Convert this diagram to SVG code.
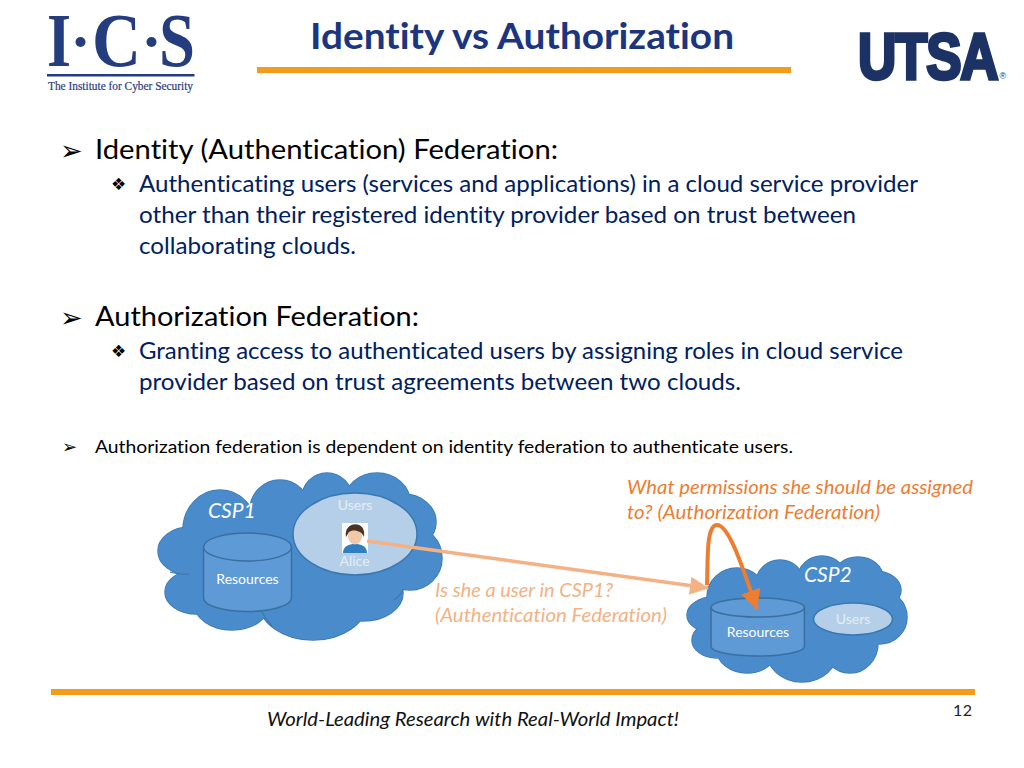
<svg xmlns="http://www.w3.org/2000/svg" width="1024" height="768" viewBox="0 0 1024 768">
<style>
text{font-family:"Lato","Noto Sans",sans-serif;font-variant-ligatures:none}
.h{font-size:27px;fill:#000}
.s{font-size:24px;fill:#002060}
.b{font-family:"DejaVu Sans",sans-serif;fill:#000}
.o{font-size:20px;font-style:italic;fill:#ed7d31}
.p{font-size:20px;font-style:italic;fill:#f4b183}
.w{font-size:14px;fill:#fff;text-anchor:middle}
.u{font-size:14px;fill:#e3edf7;text-anchor:middle}
.c{font-size:21px;font-style:italic;fill:#fff}
.edge{fill:#3a78b2;stroke:#3a78b2;stroke-width:1.5}
.fillc{fill:#4a8bcb}
.cusp{fill:none;stroke:#3a78b2;stroke-width:1.2}
.cyl{fill:#5e9ad6;stroke:#3a6f9f;stroke-width:1.5}
.ell{fill:#b6cfe9;stroke:#3a78b2;stroke-width:1.5}
.rule{fill:#f39c1c}
.logo{font-family:"Liberation Serif",serif;fill:#253c7f}
</style>
<defs>
<marker id="ah1" markerUnits="userSpaceOnUse" markerWidth="20" markerHeight="20" refX="18" refY="10" orient="auto"><path d="M0,1 L19,10 L0,19 Z" fill="#f4b183"/></marker>
<marker id="ah2" markerUnits="userSpaceOnUse" markerWidth="22" markerHeight="22" refX="19" refY="11" orient="auto"><path d="M0,1 L20,11 L0,21 Z" fill="#ed7d31"/></marker>
<g id="lobes1">
<ellipse cx="190" cy="551" rx="32" ry="24"/>
<ellipse cx="197" cy="592" rx="32" ry="22"/>
<ellipse cx="232" cy="603" rx="38" ry="27"/>
<ellipse cx="313" cy="602" rx="54" ry="38"/>
<ellipse cx="363" cy="593" rx="40" ry="28"/>
<ellipse cx="410" cy="558" rx="32" ry="32"/>
<ellipse cx="403" cy="522" rx="33" ry="28"/>
<ellipse cx="377" cy="502" rx="33" ry="29"/>
<ellipse cx="327" cy="498" rx="25" ry="25"/>
<ellipse cx="280" cy="510" rx="30" ry="30"/>
<ellipse cx="220" cy="530" rx="37" ry="40"/>
<ellipse cx="300" cy="558" rx="100" ry="52"/>
</g>
<g id="lobes2">
<ellipse cx="714" cy="615" rx="27" ry="18"/>
<ellipse cx="717" cy="640" rx="25" ry="18"/>
<ellipse cx="747" cy="650" rx="30" ry="23"/>
<ellipse cx="802" cy="650" rx="36" ry="32"/>
<ellipse cx="850" cy="643" rx="28" ry="30"/>
<ellipse cx="880" cy="617" rx="27" ry="27"/>
<ellipse cx="875" cy="590" rx="26" ry="19"/>
<ellipse cx="858" cy="578" rx="25" ry="21"/>
<ellipse cx="822" cy="578" rx="24" ry="22"/>
<ellipse cx="780" cy="583" rx="24" ry="23"/>
<ellipse cx="737" cy="597" rx="30" ry="29"/>
<ellipse cx="800" cy="615" rx="80" ry="40"/>
</g>
</defs>
<g id="header">
<text x="310" y="49" textLength="424" lengthAdjust="spacingAndGlyphs" style="font-size:37px;font-weight:700;fill:#1b3580">Identity vs Authorization</text>
<rect class="rule" x="257" y="67" width="534" height="6"/>
</g>
<g id="logo-ics">
<text class="logo" x="47" y="66" textLength="24" lengthAdjust="spacingAndGlyphs" style="font-size:76px;font-weight:700">I</text>
<circle cx="80.500" cy="42" r="5" fill="#253c7f"/>
<text class="logo" x="92" y="66" textLength="49" lengthAdjust="spacingAndGlyphs" style="font-size:76px;font-weight:700">C</text>
<circle cx="151.500" cy="42" r="5" fill="#253c7f"/>
<text class="logo" x="159" y="66" textLength="36" lengthAdjust="spacingAndGlyphs" style="font-size:76px;font-weight:700">S</text>
<rect x="47" y="74" width="147.500" height="2.500" fill="#253c7f"/>
<text class="logo" x="48" y="90" textLength="145" lengthAdjust="spacingAndGlyphs" style="font-size:12px;stroke:#253c7f;stroke-width:.2">The Institute for Cyber Security</text>
</g>
<g id="logo-utsa">
<text transform="translate(858,78.500) scale(.815,1)" style="font-family:'Liberation Sans',sans-serif;font-size:65px;font-weight:700;fill:#1c3264;stroke:#1c3264;stroke-width:3.500;letter-spacing:-1.500px">UTSA</text>
<text x="999.500" y="79" style="font-family:'Liberation Sans',sans-serif;font-size:9px;fill:#1c3264">®</text>
</g>
<g id="body">
<text class="b" x="60" y="160" style="font-size:27px">➢</text>
<text class="h" x="95" y="159" textLength="463" lengthAdjust="spacingAndGlyphs">Identity (Authentication) Federation:</text>
<text class="b" x="111" y="190" style="font-size:17px">❖</text>
<text class="s" x="139" y="192" textLength="779" lengthAdjust="spacingAndGlyphs">Authenticating users (services and applications) in a cloud service provider</text>
<text class="s" x="139" y="223" textLength="717" lengthAdjust="spacingAndGlyphs">other than their registered identity provider based on trust between</text>
<text class="s" x="139" y="254" textLength="217" lengthAdjust="spacingAndGlyphs">collaborating clouds.</text>
<text class="b" x="60" y="327" style="font-size:27px">➢</text>
<text class="h" x="95" y="326" textLength="324" lengthAdjust="spacingAndGlyphs">Authorization Federation:</text>
<text class="b" x="111" y="357" style="font-size:17px">❖</text>
<text class="s" x="139" y="359" textLength="764" lengthAdjust="spacingAndGlyphs">Granting access to authenticated users by assigning roles in cloud service</text>
<text class="s" x="139" y="390" textLength="602" lengthAdjust="spacingAndGlyphs">provider based on trust agreements between two clouds.</text>
<text class="b" x="62" y="453" style="font-size:18px">➢</text>
<text x="95" y="453" textLength="698" lengthAdjust="spacingAndGlyphs" style="font-size:18px;fill:#000">Authorization federation is dependent on identity federation to authenticate users.</text>
</g>
<g id="csp1">
<use href="#lobes1" class="edge"/>
<use href="#lobes1" class="fillc"/>
<path class="cusp" d="M170,572 Q180,575 190,574 M262,612 Q266,620 272,626 M403,590 Q400,596 394,600"/>
<text class="c" x="208" y="518">CSP1</text>
<path class="cyl" d="M203.500,547 V598 A44,13.500 0 0 0 291.500,598 V547 Z"/>
<ellipse class="cyl" cx="247.500" cy="547" rx="44" ry="14"/>
<text class="w" x="247.500" y="584">Resources</text>
</g>
<g id="users1">
<ellipse class="ell" cx="355" cy="534" rx="62" ry="41"/>
<text class="u" x="355" y="510">Users</text>
<rect x="342" y="523" width="26" height="30" fill="#fff"/>
<path d="M343,553 C343,546 349,544 355,544 C361,544 367,546 367,553 Z" fill="#2f7fc1"/>
<ellipse cx="355" cy="536" rx="7" ry="8.500" fill="#f2c9a8"/>
<path d="M346,537 C343,521 367,519 364,537 C362,530 352,529 349,532 Z" fill="#4a3324"/>
<text class="u" x="354.500" y="566">Alice</text>
</g>
<g id="csp2">
<use href="#lobes2" class="edge"/>
<use href="#lobes2" class="fillc"/>
<text class="c" x="804" y="582">CSP2</text>
<path class="cyl" d="M711,607.500 V646.500 A46.700,9.500 0 0 0 804.400,646.500 V607.500 Z"/>
<ellipse class="cyl" cx="757.700" cy="607.500" rx="46.700" ry="9.500"/>
<text class="w" x="758" y="637">Resources</text>
<ellipse class="ell" cx="853" cy="619" rx="39.500" ry="16"/>
<text class="u" x="853" y="624">Users</text>
</g>
<g id="connectors" fill="none">
<path d="M367,541 L708,588" stroke="#f4b183" stroke-width="3.500" marker-end="url(#ah1)"/>
<path d="M707,585 C708,560 706,525 717,525 C730,525 745,575 757,609" stroke="#ed7d31" stroke-width="4" marker-end="url(#ah2)"/>
</g>
<g id="labels">
<text class="o" x="627" y="494" textLength="346" lengthAdjust="spacingAndGlyphs">What permissions she should be assigned</text>
<text class="o" x="627" y="519" textLength="253" lengthAdjust="spacingAndGlyphs">to? (Authorization Federation)</text>
<text class="p" x="435" y="597" textLength="178" lengthAdjust="spacingAndGlyphs">Is she a user in CSP1?</text>
<text class="p" x="435" y="622" textLength="232" lengthAdjust="spacingAndGlyphs">(Authentication Federation)</text>
</g>
<g id="footer">
<rect class="rule" x="51" y="689" width="924" height="6"/>
<text x="267" y="726" textLength="412" lengthAdjust="spacingAndGlyphs" style="font-size:20px;font-style:italic;fill:#111">World-Leading Research with Real-World Impact!</text>
<text x="953" y="716" textLength="19" style="font-size:16px;fill:#222">12</text>
</g>
</svg>
